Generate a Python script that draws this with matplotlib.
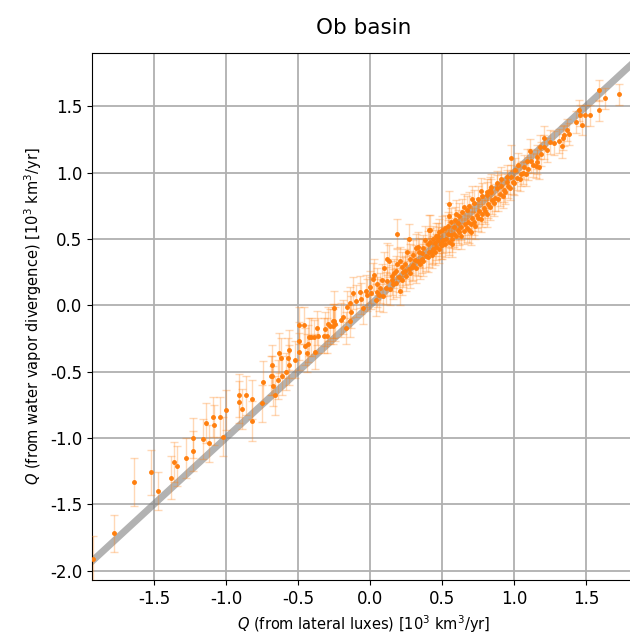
import numpy as np
import matplotlib
matplotlib.use("Agg")
import matplotlib.pyplot as plt

plt.rcParams['axes.unicode_minus'] = False

# Q from lateral fluxes (x), Q from water vapor divergence (y), 1-sigma error on y
q_lateral = [
    -1.92, -1.78, -1.64, -1.52, -1.47, -1.38, -1.36, -1.34, -1.28, -1.23,
    -1.23, -1.16, -1.14, -1.12, -1.09, -1.08, -1.04, -1.02, -1.00, -0.91,
    -0.91, -0.89, -0.86, -0.82, -0.82, -0.75, -0.74, -0.69, -0.68, -0.68,
    -0.67, -0.66, -0.64, -0.63, -0.62, -0.61, -0.58, -0.57, -0.56, -0.56,
    -0.52, -0.49, -0.49, -0.49, -0.46, -0.45, -0.44, -0.43, -0.42, -0.41,
    -0.39, -0.38, -0.37, -0.36, -0.32, -0.31, -0.30, -0.29, -0.28, -0.26,
    -0.26, -0.25, -0.25, -0.24, -0.20, -0.19, -0.17, -0.16, -0.14, -0.14,
    -0.13, -0.12, -0.10, -0.07, -0.06, -0.05, -0.03, -0.02, 0.00, 0.01,
    0.02, 0.03, 0.04, 0.05, 0.06, 0.08, 0.09, 0.10, 0.11, 0.12,
    0.13, 0.14, 0.15, 0.16, 0.17, 0.18, 0.19, 0.19, 0.20, 0.21,
    0.21, 0.22, 0.23, 0.24, 0.25, 0.26, 0.27, 0.27, 0.28, 0.29,
    0.30, 0.31, 0.32, 0.32, 0.33, 0.33, 0.35, 0.36, 0.36, 0.37,
    0.38, 0.39, 0.40, 0.41, 0.41, 0.42, 0.43, 0.43, 0.44, 0.45,
    0.45, 0.46, 0.47, 0.47, 0.48, 0.49, 0.49, 0.50, 0.51, 0.52,
    0.53, 0.54, 0.55, 0.55, 0.55, 0.56, 0.57, 0.58, 0.58, 0.60,
    0.60, 0.61, 0.61, 0.62, 0.63, 0.65, 0.65, 0.66, 0.67, 0.68,
    0.70, 0.71, 0.71, 0.72, 0.74, 0.75, 0.76, 0.77, 0.78, 0.79,
    0.80, 0.81, 0.82, 0.83, 0.83, 0.84, 0.85, 0.86, 0.87, 0.88,
    0.89, 0.90, 0.91, 0.92, 0.93, 0.94, 0.95, 0.96, 0.97, 0.98,
    0.98, 0.99, 1.00, 1.01, 1.02, 1.03, 1.04, 1.05, 1.06, 1.07,
    1.08, 1.09, 1.10, 1.11, 1.12, 1.13, 1.15, 1.16, 1.16, 1.17,
    1.18, 1.19, 1.21, 1.21, 1.23, 1.25, 1.28, 1.31, 1.33, 1.34,
    1.35, 1.37, 1.38, 1.43, 1.45, 1.46, 1.47, 1.49, 1.53, 1.59,
    1.59, 1.63, 1.73,
    0.05, 0.07, 0.12, 0.15, 0.18, 0.22, 0.24, 0.28, 0.30, 0.34,
    0.37, 0.40, 0.42, 0.44, 0.46, 0.48, 0.50, 0.52, 0.54, 0.56,
    0.59, 0.62, 0.64, 0.67, 0.69, 0.72, 0.75, 0.78, 0.81, 0.84,
    0.88, 0.91, 0.95, 0.57, 0.63, 0.69, 0.73, 0.77, 0.81, 0.70,
]
q_vapor = [
    -1.91, -1.72, -1.33, -1.26, -1.40, -1.30, -1.18, -1.21, -1.15, -1.10,
    -1.00, -1.01, -0.89, -1.04, -0.84, -0.90, -0.84, -0.99, -0.79, -0.73,
    -0.68, -0.78, -0.68, -0.71, -0.87, -0.74, -0.58, -0.53, -0.53, -0.45,
    -0.61, -0.68, -0.56, -0.36, -0.40, -0.53, -0.50, -0.40, -0.34, -0.45,
    -0.41, -0.27, -0.35, -0.15, -0.15, -0.31, -0.36, -0.29, -0.24, -0.24,
    -0.24, -0.35, -0.17, -0.23, -0.23, -0.18, -0.23, -0.14, -0.16, -0.12,
    -0.16, -0.02, -0.12, -0.14, -0.11, -0.09, -0.17, -0.01, 0.02, -0.12,
    -0.05, 0.09, 0.03, 0.10, 0.05, -0.02, 0.11, 0.08, 0.14, 0.09,
    0.20, 0.23, 0.04, 0.16, 0.08, 0.19, 0.07, 0.28, 0.13, 0.35,
    0.33, 0.12, 0.19, 0.16, 0.24, 0.17, 0.31, 0.54, 0.21, 0.11,
    0.33, 0.19, 0.25, 0.26, 0.22, 0.40, 0.50, 0.27, 0.24, 0.29,
    0.30, 0.34, 0.43, 0.28, 0.44, 0.33, 0.31, 0.39, 0.35, 0.33,
    0.49, 0.37, 0.36, 0.57, 0.40, 0.57, 0.41, 0.38, 0.42, 0.47,
    0.40, 0.44, 0.52, 0.49, 0.42, 0.45, 0.47, 0.45, 0.49, 0.46,
    0.50, 0.54, 0.76, 0.67, 0.48, 0.53, 0.50, 0.59, 0.54, 0.69,
    0.52, 0.62, 0.57, 0.55, 0.59, 0.74, 0.56, 0.61, 0.58, 0.63,
    0.61, 0.80, 0.66, 0.63, 0.68, 0.66, 0.71, 0.86, 0.69, 0.73,
    0.71, 0.83, 0.76, 0.87, 0.74, 0.85, 0.79, 0.77, 0.81, 0.88,
    0.80, 0.84, 0.90, 0.82, 0.87, 0.85, 0.93, 0.90, 0.88, 0.97,
    1.11, 0.93, 0.92, 1.02, 0.96, 1.06, 0.95, 0.99, 1.00, 1.04,
    0.99, 1.09, 1.03, 1.16, 1.09, 1.06, 1.05, 1.12, 1.08, 1.04,
    1.19, 1.14, 1.26, 1.19, 1.17, 1.23, 1.22, 1.24, 1.20, 1.26,
    1.28, 1.32, 1.29, 1.38, 1.47, 1.43, 1.36, 1.43, 1.43, 1.62,
    1.47, 1.56, 1.59,
    0.10, 0.13, 0.18, 0.22, 0.26, 0.29, 0.31, 0.35, 0.38, 0.40,
    0.43, 0.46, 0.48, 0.50, 0.52, 0.55, 0.57, 0.58, 0.60, 0.63,
    0.64, 0.67, 0.70, 0.72, 0.75, 0.77, 0.80, 0.82, 0.85, 0.89,
    0.92, 0.95, 0.97, 0.46, 0.52, 0.57, 0.60, 0.65, 0.69, 0.55,
]
q_err = [
    0.17, 0.14, 0.18, 0.17, 0.14, 0.16, 0.15, 0.15, 0.15, 0.15,
    0.15, 0.15, 0.15, 0.14, 0.15, 0.15, 0.15, 0.15, 0.15, 0.16,
    0.16, 0.15, 0.15, 0.15, 0.15, 0.14, 0.16, 0.15, 0.15, 0.15,
    0.15, 0.15, 0.15, 0.15, 0.15, 0.15, 0.14, 0.15, 0.15, 0.15,
    0.14, 0.14, 0.14, 0.14, 0.14, 0.14, 0.14, 0.14, 0.14, 0.14,
    0.13, 0.13, 0.13, 0.13, 0.13, 0.13, 0.13, 0.13, 0.13, 0.13,
    0.13, 0.13, 0.13, 0.13, 0.13, 0.13, 0.12, 0.12, 0.12, 0.12,
    0.12, 0.12, 0.12, 0.12, 0.12, 0.12, 0.12, 0.12, 0.12, 0.12,
    0.12, 0.12, 0.12, 0.12, 0.12, 0.12, 0.12, 0.12, 0.12, 0.12,
    0.12, 0.12, 0.11, 0.11, 0.11, 0.11, 0.11, 0.11, 0.11, 0.11,
    0.11, 0.11, 0.11, 0.11, 0.11, 0.11, 0.11, 0.11, 0.11, 0.11,
    0.11, 0.11, 0.11, 0.11, 0.11, 0.11, 0.11, 0.11, 0.11, 0.11,
    0.11, 0.11, 0.11, 0.11, 0.11, 0.11, 0.10, 0.10, 0.10, 0.10,
    0.10, 0.10, 0.10, 0.10, 0.10, 0.10, 0.10, 0.10, 0.10, 0.10,
    0.10, 0.10, 0.10, 0.10, 0.10, 0.10, 0.10, 0.10, 0.10, 0.10,
    0.10, 0.10, 0.10, 0.10, 0.10, 0.10, 0.10, 0.10, 0.10, 0.10,
    0.10, 0.10, 0.10, 0.10, 0.10, 0.10, 0.10, 0.10, 0.10, 0.10,
    0.10, 0.10, 0.10, 0.10, 0.10, 0.10, 0.10, 0.10, 0.10, 0.10,
    0.09, 0.09, 0.09, 0.09, 0.09, 0.09, 0.09, 0.09, 0.09, 0.09,
    0.10, 0.09, 0.09, 0.09, 0.09, 0.09, 0.09, 0.09, 0.09, 0.09,
    0.09, 0.09, 0.09, 0.09, 0.09, 0.09, 0.09, 0.09, 0.09, 0.09,
    0.09, 0.09, 0.09, 0.09, 0.09, 0.09, 0.09, 0.09, 0.09, 0.09,
    0.08, 0.08, 0.08, 0.08, 0.08, 0.08, 0.08, 0.08, 0.08, 0.08,
    0.08, 0.08, 0.08,
    0.11, 0.11, 0.11, 0.11, 0.11, 0.11, 0.11, 0.11, 0.11, 0.11,
    0.10, 0.10, 0.10, 0.10, 0.10, 0.10, 0.10, 0.10, 0.10, 0.10,
    0.10, 0.10, 0.10, 0.10, 0.10, 0.10, 0.10, 0.10, 0.10, 0.10,
    0.09, 0.09, 0.09, 0.10, 0.10, 0.10, 0.10, 0.10, 0.10, 0.10,
]

xlims = (-1.93, 1.84)
ylims = (-2.07, 1.90)

fig = plt.figure(figsize=(6.3, 6.4), dpi=100)
ax = fig.add_axes([0.146, 0.094, 0.862, 0.823])

ax.plot(xlims, xlims, color='grey', lw=5, alpha=0.6, zorder=2)
ax.errorbar(q_lateral, q_vapor, yerr=q_err, fmt='none', ecolor='#ff7f0e',
            elinewidth=1, capsize=3, alpha=0.3, zorder=3)
ax.plot(q_lateral, q_vapor, 'o', color='#ff7f0e', ms=2.5, zorder=4)

ax.set_xlim(*xlims)
ax.set_ylim(*ylims)
ax.set_xticks([-1.5, -1.0, -0.5, 0.0, 0.5, 1.0, 1.5])
ax.set_yticks([-2.0, -1.5, -1.0, -0.5, 0.0, 0.5, 1.0, 1.5])
ax.grid(True, color='#b0b0b0', lw=1.3)
ax.set_axisbelow(True)
ax.tick_params(labelsize=12)
ax.set_title('Ob basin', fontsize=15.5, pad=14)
ax.set_xlabel(r'$Q$ (from lateral luxes) [10$^3$ km$^3$/yr]', fontsize=10.5)
ax.set_ylabel(r'$Q$ (from water vapor divergence) [10$^3$ km$^3$/yr]', fontsize=10.5)

fig.savefig('out.png', dpi=100)
